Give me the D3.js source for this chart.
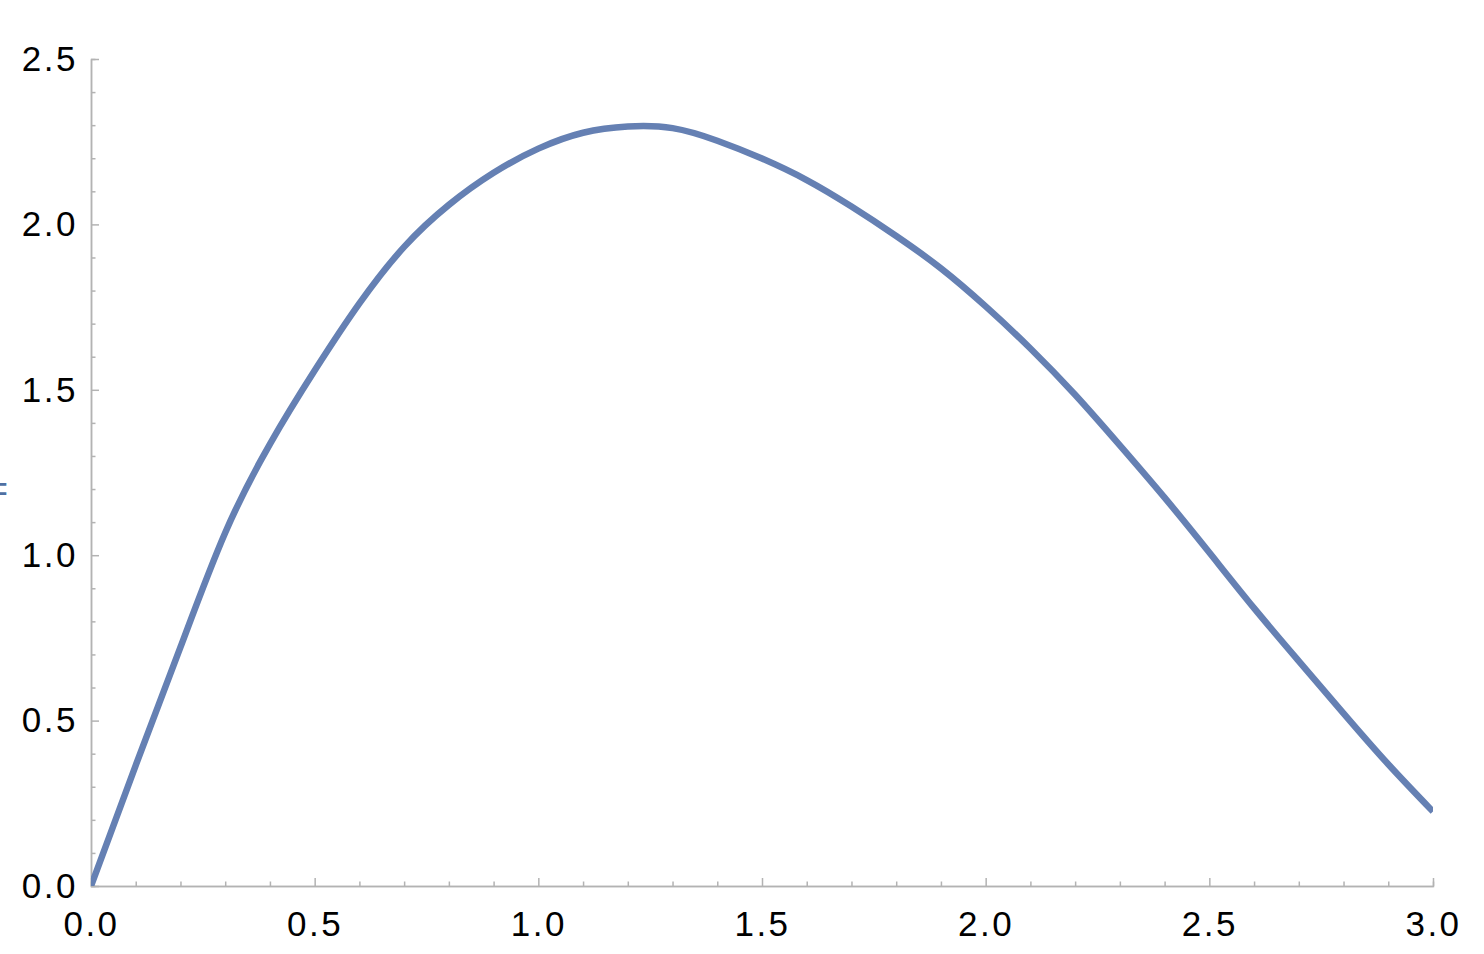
<!DOCTYPE html>
<html>
<head>
<meta charset="utf-8">
<script src="https://cdn.jsdelivr.net/npm/d3@7"></script>
<style>
    body { margin: 0; background: #ffffff; }
    svg { display: block; font-family: "Liberation Sans", Arial, sans-serif; }
    .axis path, .axis line { stroke: #b3b3b3; stroke-width: 1.5; }
    .axis text { fill: #000000; font-size: 35px; letter-spacing: 2.5px; }
</style>
</head>
<body>
<svg id="canvas"></svg>
<script>
// curve values, every 0.1 on x
let xValues = [0, 0.1, 0.2, 0.3, 0.4, 0.5, 0.6, 0.7, 0.8, 0.9, 1.0, 1.1, 1.2, 1.3, 1.4, 1.5,
               1.6, 1.7, 1.8, 1.9, 2.0, 2.1, 2.2, 2.3, 2.4, 2.5, 2.6, 2.7, 2.8, 2.9, 3.0]
let yValues = [0, 0.365, 0.722, 1.068, 1.336, 1.558, 1.761, 1.932, 2.059, 2.156, 2.229, 2.277, 2.296, 2.291, 2.253, 2.199,
               2.134, 2.054, 1.965, 1.867, 1.752, 1.625, 1.485, 1.332, 1.174, 1.008, 0.840, 0.680, 0.522, 0.368, 0.225]

let xTicks = [0, 0.5, 1.0, 1.5, 2.0, 2.5, 3.0]
let yTicks = [0, 0.5, 1.0, 1.5, 2.0, 2.5]
let xMinorTicks = d3.range(0, 31).map(i => i / 10).filter(v => !xTicks.includes(v))
let yMinorTicks = d3.range(0, 26).map(i => i / 10).filter(v => !yTicks.includes(v))

let width = 1484
let height = 954
let plotLeft = 91
let plotRight = 1433
let plotTop = 59
let plotBottom = 886

let canvas = d3.select("#canvas")
                .attr("width", width)
                .attr("height", height)

let xScale = d3.scaleLinear()
                .domain([0, 3])
                .range([plotLeft, plotRight])

let yScale = d3.scaleLinear()
                .domain([0, 2.5])
                .range([plotBottom, plotTop])

// clipped axis label on the far left
canvas.append("text")
        .attr("x", 8)
        .attr("y", yScale(1.25) + 28)
        .attr("text-anchor", "end")
        .style("font-size", "36px")
        .style("fill", "#4f70a3")
        .text("=")

let drawAxes = () => {

    canvas.append("g")
            .attr("class", "axis")
            .attr("transform", "translate(0," + plotBottom + ")")
            .call(d3.axisBottom(xScale).tickValues(xMinorTicks).tickSize(-4.5).tickFormat(""))

    canvas.append("g")
            .attr("class", "axis")
            .attr("transform", "translate(0," + plotBottom + ")")
            .call(d3.axisBottom(xScale)
                    .tickValues(xTicks)
                    .tickSizeInner(-8)
                    .tickSizeOuter(0)
                    .tickPadding(25)
                    .tickFormat(d3.format(".1f")))

    canvas.append("g")
            .attr("class", "axis")
            .attr("transform", "translate(" + plotLeft + ",0)")
            .call(d3.axisLeft(yScale).tickValues(yMinorTicks).tickSize(-4.5).tickFormat(""))

    canvas.append("g")
            .attr("class", "axis")
            .attr("transform", "translate(" + plotLeft + ",0)")
            .call(d3.axisLeft(yScale)
                    .tickValues(yTicks)
                    .tickSizeInner(-8)
                    .tickSizeOuter(0)
                    .tickPadding(13)
                    .tickFormat(d3.format(".1f")))

    canvas.selectAll(".axis text").attr("font-family", null).attr("font-size", null)
}

let drawCurve = () => {

    canvas.append("clipPath")
            .attr("id", "plot-clip")
            .append("rect")
            .attr("x", plotLeft)
            .attr("y", plotTop)
            .attr("width", plotRight - plotLeft)
            .attr("height", plotBottom - plotTop)

    let points = xValues.map((x, i) => [x, yValues[i]])

    let line = d3.line()
                .x(d => xScale(d[0]))
                .y(d => yScale(d[1]))
                .curve(d3.curveNatural)

    canvas.append("path")
            .datum(points)
            .attr("clip-path", "url(#plot-clip)")
            .attr("d", line)
            .attr("fill", "none")
            .attr("stroke", "#6580b3")
            .attr("stroke-width", 6.5)
            .attr("stroke-linejoin", "round")
}

drawAxes()
drawCurve()
</script>
</body>
</html>
